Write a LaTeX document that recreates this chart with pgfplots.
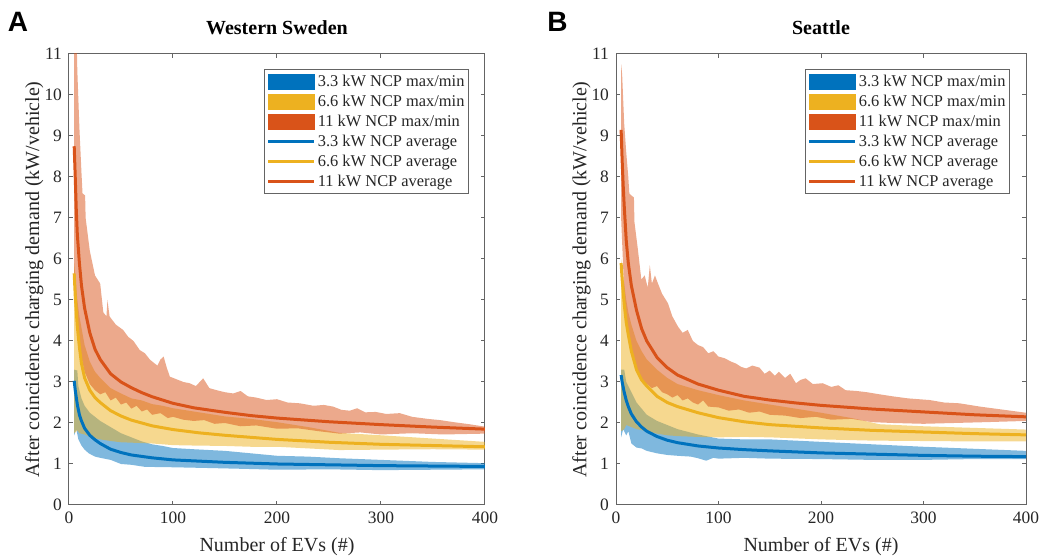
\documentclass[border=0pt]{standalone}
\usepackage{fontspec}
\setmainfont{Liberation Serif}
\newfontfamily\lettersans{Liberation Sans}
\usepackage{pgfplots}
\pgfplotsset{compat=1.18}
\usepgfplotslibrary{fillbetween}
\definecolor{mblue}{RGB}{0,114,189}
\definecolor{myel}{RGB}{237,177,32}
\definecolor{mred}{RGB}{217,83,25}
\definecolor{axgray}{RGB}{100,100,100}
\definecolor{txt}{RGB}{38,38,38}
\pgfplotsset{
  swatch/.style={legend image code/.code={\draw[##1,line width=0.4pt] (0pt,-3.75pt) rectangle (23pt,3.75pt);}},
  lineimg/.style={legend image code/.code={\draw[##1] (0pt,0pt) -- (23pt,0pt);}},
  myaxis/.style={
    scale only axis, height=225.5pt,
    xmin=0, xmax=400, ymin=0, ymax=11,
    xtick={0,100,...,400}, ytick={0,1,...,11},
    minor tick num=0,
    tick align=inside, major tick length=2pt,
    axis line style={axgray, line width=0.5pt},
    every tick/.style={axgray, line width=0.5pt},
    tick label style={font=\rmfamily\fontsize{8.7}{10}\selectfont, text=txt},
    /pgf/number format/assume math mode=true,
    xticklabel={\rmfamily\pgfmathprintnumber[assume math mode=true]{\tick}},
    yticklabel={\rmfamily\pgfmathprintnumber[assume math mode=true]{\tick}},
    label style={font=\rmfamily\fontsize{10}{12}\selectfont, text=txt},
    xlabel={Number of EVs (\#)},
    ylabel={After coincidence charging demand (kW/vehicle)},
    xlabel style={at={(axis description cs:0.5,-0.1033)}, anchor=base},
    ylabel style={at={(axis description cs:-0.0720,0.5)}, anchor=base},
    title style={at={(axis description cs:0.5,1)}, anchor=south, yshift=0pt, font=\rmfamily\fontsize{10}{12}\selectfont\bfseries, text=black},
    legend style={at={(rel axis cs:1,1)}, anchor=north east, xshift=-8pt, yshift=-7.5pt,
      font=\rmfamily\fontsize{8.2}{9}\selectfont, text=txt, draw=axgray, line width=0.5pt,
      inner xsep=1pt, inner ysep=1pt,
      nodes={inner sep=1pt, text height=6.5pt, text depth=1.5pt}},
    legend cell align=left,
  },
  band/.style={draw=none, forget plot},
  avg/.style={line width=1.5pt, forget plot},
}
\begin{document}
\begin{tikzpicture}
% ---------------- Panel A ----------------
\begin{axis}[myaxis, width=208pt, title={Western Sweden}]
\addlegendimage{swatch, fill=mblue, draw=mblue}
\addlegendimage{swatch, fill=myel, draw=myel}
\addlegendimage{swatch, fill=mred, draw=mred}
\addlegendimage{lineimg, mblue, line width=1.5pt}
\addlegendimage{lineimg, myel, line width=1.5pt}
\addlegendimage{lineimg, mred, line width=1.5pt}
% blue band
\addplot[band, name path=bu] coordinates {(5,3.3) (8,3.28) (9,2.9) (12,2.6) (15,2.42) (20,2.25) (25,2.15) (30,2.05) (40,1.9) (50,1.75) (60,1.65) (70,1.55) (80,1.48) (90,1.44) (100,1.39) (120,1.36) (150,1.32) (175,1.26) (200,1.2) (230,1.18) (260,1.14) (300,1.1) (350,1.05) (400,1.02)};
\addplot[band, name path=bl] coordinates {(5,1.7) (7,1.85) (9,1.6) (12,1.45) (15,1.35) (19,1.26) (25,1.18) (30,1.15) (40,1.1) (50,1.0) (60,0.98) (73,0.93) (100,0.92) (137,0.9) (170,0.88) (200,0.86) (250,0.87) (300,0.85) (350,0.86) (400,0.87)};
\addplot[mblue, fill opacity=0.5, draw=none, forget plot] fill between[of=bu and bl];
% yellow band
\addplot[band, name path=yu] coordinates {(5,5.9) (8,5.0) (10,4.6) (15,3.9) (20,3.5) (25,3.25) (30,3.1) (40,2.85) (50,2.72) (60,2.6) (70,2.55) (80,2.46) (90,2.42) (100,2.36) (120,2.28) (150,2.16) (175,2.1) (200,2.02) (230,1.9) (260,1.76) (300,1.7) (350,1.62) (400,1.54)};
\addplot[band, name path=yl] coordinates {(5,1.75) (8,1.82) (10,1.75) (15,1.72) (20,1.66) (30,1.6) (40,1.56) (50,1.53) (60,1.52) (70,1.51) (80,1.5) (90,1.48) (100,1.46) (120,1.45) (150,1.44) (175,1.42) (200,1.42) (230,1.38) (260,1.34) (300,1.35) (350,1.36) (400,1.35)};
\addplot[myel, fill opacity=0.5, draw=none, forget plot] fill between[of=yu and yl];
% red band
\addplot[band, name path=ru] coordinates {(5,11.6) (7.5,11.2) (8,10.6) (10,9.2) (12,8.1) (13,7.6) (15.5,7.55) (16,7.0) (18,6.6) (20,6.2) (25,5.6) (30,5.4) (33,4.7) (36,4.6) (37,5.0) (39,4.6) (45,4.4) (52,4.27) (57,4.1) (62,4.0) (68,3.78) (73,3.7) (78,3.54) (85,3.4) (88,3.55) (91,3.62) (94,3.35) (97,3.13) (105,3.05) (110,3.0) (116,2.97) (122,2.9) (129,3.09) (135,2.85) (142,2.8) (150,2.75) (158,2.72) (165,2.78) (172,2.65) (180,2.62) (190,2.56) (200,2.58) (210,2.5) (222,2.48) (235,2.42) (245,2.44) (254,2.4) (262,2.32) (270,2.3) (277,2.36) (285,2.26) (295,2.27) (305,2.22) (318,2.24) (330,2.15) (345,2.1) (357,2.07) (370,2.02) (385,1.97) (400,1.91)};
\addplot[band, name path=rl] coordinates {(5,5.6) (8,4.5) (10,4.0) (12,3.6) (15,3.25) (20,2.95) (25,2.8) (30,2.7) (35,2.75) (40,2.55) (45,2.62) (50,2.45) (55,2.5) (60,2.35) (65,2.42) (70,2.28) (75,2.33) (80,2.2) (88,2.24) (95,2.12) (100,2.15) (110,2.08) (120,2.05) (130,2.07) (140,1.98) (150,2.0) (165,1.92) (180,1.94) (200,1.86) (220,1.87) (240,1.8) (260,1.74) (280,1.77) (300,1.72) (330,1.75) (360,1.72) (400,1.74)};
\addplot[mred, fill opacity=0.5, draw=none, forget plot] fill between[of=ru and rl];
% averages
\addplot[avg, mblue] coordinates {(5,3.03) (6,2.8) (8,2.45) (10,2.2) (12,2.05) (15,1.87) (20,1.7) (25,1.59) (30,1.5) (40,1.36) (50,1.28) (60,1.22) (80,1.15) (100,1.1) (125,1.07) (150,1.04) (200,1.0) (250,0.98) (300,0.96) (350,0.95) (400,0.94)};
\addplot[avg, myel] coordinates {(5,5.65) (6,5.1) (8,4.35) (10,3.85) (12,3.45) (15,3.1) (20,2.8) (25,2.62) (30,2.5) (40,2.3) (50,2.17) (60,2.07) (80,1.93) (100,1.84) (125,1.76) (150,1.7) (200,1.6) (250,1.53) (300,1.48) (350,1.45) (400,1.42)};
\addplot[avg, mred] coordinates {(5,8.75) (6,8.0) (7,7.2) (8,6.6) (10,5.9) (12,5.35) (15,4.8) (20,4.2) (25,3.8) (30,3.55) (40,3.2) (50,3.0) (60,2.86) (70,2.74) (80,2.64) (100,2.48) (120,2.37) (150,2.26) (175,2.18) (200,2.12) (250,2.03) (300,1.96) (350,1.9) (400,1.85)};
\legend{3.3 kW NCP max/min, 6.6 kW NCP max/min, 11 kW NCP max/min, 3.3 kW NCP average, 6.6 kW NCP average, 11 kW NCP average}
\end{axis}
% ---------------- Panel B ----------------
\begin{axis}[myaxis, width=205pt, at={(273.5pt,0pt)}, anchor=south west, title={Seattle}]
\addlegendimage{swatch, fill=mblue, draw=mblue}
\addlegendimage{swatch, fill=myel, draw=myel}
\addlegendimage{swatch, fill=mred, draw=mred}
\addlegendimage{lineimg, mblue, line width=1.5pt}
\addlegendimage{lineimg, myel, line width=1.5pt}
\addlegendimage{lineimg, mred, line width=1.5pt}
\addplot[band, name path=bu] coordinates {(5,3.3) (8,3.3) (10,3.0) (15,2.75) (20,2.5) (25,2.35) (30,2.2) (40,2.05) (50,1.95) (60,1.85) (80,1.72) (100,1.62) (125,1.6) (150,1.6) (200,1.54) (250,1.48) (300,1.42) (350,1.37) (400,1.32)};
\addplot[band, name path=bl] coordinates {(5,1.65) (7,1.85) (10,1.7) (12,1.8) (15,1.5) (20,1.4) (25,1.38) (30,1.32) (40,1.26) (50,1.22) (60,1.2) (73,1.18) (80,1.14) (88,1.08) (95,1.15) (100,1.13) (125,1.15) (150,1.13) (200,1.12) (250,1.1) (300,1.1) (350,1.12) (400,1.12)};
\addplot[mblue, fill opacity=0.5, draw=none, forget plot] fill between[of=bu and bl];
\addplot[band, name path=yu] coordinates {(5,6.0) (8,5.4) (10,5.0) (12,4.7) (15,4.4) (20,4.0) (25,3.75) (30,3.55) (40,3.3) (50,3.1) (60,2.95) (80,2.8) (100,2.68) (125,2.55) (150,2.45) (175,2.35) (200,2.25) (230,2.12) (257,1.97) (300,1.92) (350,1.88) (400,1.84)};
\addplot[band, name path=yl] coordinates {(5,1.8) (8,1.85) (10,1.95) (15,1.9) (20,1.85) (30,1.8) (40,1.74) (50,1.7) (60,1.68) (80,1.66) (100,1.65) (125,1.66) (150,1.65) (200,1.6) (250,1.57) (300,1.56) (350,1.55) (400,1.55)};
\addplot[myel, fill opacity=0.5, draw=none, forget plot] fill between[of=yu and yl];
\addplot[band, name path=ru] coordinates {(5,10.75) (6,10.5) (7,9.9) (8,9.3) (10,8.6) (12,8.0) (13,7.6) (15,7.55) (17.5,7.5) (18,6.9) (20,6.5) (21.5,6.2) (24.7,5.5) (28,5.6) (31,5.3) (33,5.85) (35,5.4) (38,5.6) (41,5.4) (45,5.15) (50.7,4.92) (55,4.6) (60.5,4.35) (65,4.2) (70,4.27) (75,4.0) (80,3.9) (85,3.85) (90,3.7) (95,3.75) (100,3.62) (106,3.58) (112,3.5) (117,3.45) (122,3.37) (127,3.33) (133,3.4) (140,3.35) (145,3.2) (150,3.28) (155,3.15) (159,3.25) (165,3.1) (170,3.2) (175.6,2.97) (180,3.05) (185,3.09) (192,2.95) (201.6,2.97) (210,2.88) (217,2.92) (224,2.8) (235,2.78) (245,2.75) (257,2.7) (270,2.65) (285,2.6) (306,2.56) (320,2.5) (335,2.48) (355,2.4) (370,2.35) (385,2.3) (400,2.25)};
\addplot[band, name path=rl] coordinates {(5,7.0) (8,5.2) (10,4.6) (12,4.1) (15,3.7) (20,3.3) (25,3.05) (30,2.95) (35,2.85) (40,2.9) (45,2.75) (50,2.7) (55,2.62) (60,2.68) (65,2.55) (70,2.6) (75,2.5) (80,2.45) (85,2.55) (90,2.4) (100,2.38) (110,2.3) (120,2.33) (130,2.25) (140,2.28) (150,2.2) (165,2.18) (180,2.12) (195,2.15) (210,2.08) (230,2.1) (250,2.02) (270,2.0) (300,1.98) (330,2.0) (360,2.02) (400,2.05)};
\addplot[mred, fill opacity=0.5, draw=none, forget plot] fill between[of=ru and rl];
\addplot[avg, mblue] coordinates {(5,3.17) (6,3.0) (8,2.75) (10,2.55) (12,2.4) (15,2.22) (20,2.03) (25,1.9) (30,1.8) (40,1.67) (50,1.58) (60,1.52) (80,1.44) (100,1.39) (125,1.35) (150,1.32) (200,1.27) (250,1.24) (300,1.21) (350,1.19) (400,1.18)};
\addplot[avg, myel] coordinates {(5,5.9) (6,5.5) (8,4.9) (10,4.45) (12,4.15) (15,3.75) (20,3.3) (25,3.05) (30,2.9) (40,2.65) (50,2.5) (60,2.4) (80,2.25) (100,2.13) (125,2.03) (150,1.96) (200,1.88) (250,1.82) (300,1.78) (350,1.74) (400,1.71)};
\addplot[avg, mred] coordinates {(5,9.15) (6,8.4) (7,7.8) (8,7.3) (10,6.45) (12,5.9) (15,5.35) (20,4.75) (25,4.3) (30,4.0) (40,3.6) (50,3.35) (60,3.17) (80,2.95) (100,2.8) (125,2.65) (150,2.56) (175,2.49) (200,2.43) (250,2.34) (300,2.27) (350,2.2) (400,2.15)};
\legend{3.3 kW NCP max/min, 6.6 kW NCP max/min, 11 kW NCP max/min, 3.3 kW NCP average, 6.6 kW NCP average, 11 kW NCP average}
\end{axis}
\node[font=\lettersans\bfseries\fontsize{14}{16}\selectfont] at (-25.5pt,241.5pt) {A};
\node[font=\lettersans\bfseries\fontsize{14}{16}\selectfont] at (244.25pt,241.5pt) {B};
\pgfresetboundingbox
\useasboundingbox (-34.5pt,-27.5pt) rectangle (491pt,252.5pt);
\end{tikzpicture}
\end{document}
